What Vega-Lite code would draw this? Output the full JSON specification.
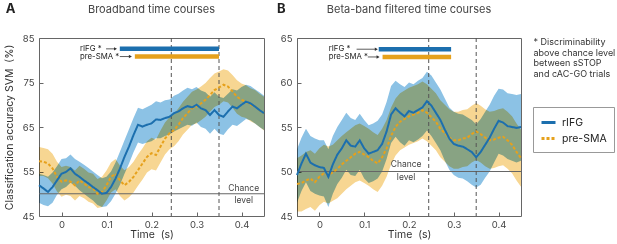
{
"$schema": "https://vega.github.io/schema/vega-lite/v6.json",
"padding": {"left": 3, "top": 2, "right": 0, "bottom": 0},
"spacing": 7,
"config": {
 "font": "Inter",
 "view": {"stroke": "#666", "strokeWidth": 1},
 "axis": {"domain": false, "grid": false, "ticks": true, "tickSize": -4, "tickColor": "#666", "labelPadding": 9, "labelFont": "Inter", "labelFontSize": 9.5, "labelColor": "#444", "titleFont": "Inter", "titleFontSize": 10.5, "titleFontWeight": "normal", "titleColor": "#333"},
 "axisX": {"labelPadding": 7, "titlePadding": 1},
 "title": {"font": "Inter", "fontSize": 11, "fontWeight": "normal", "color": "#444", "offset": -12},
 "legend": {"labelFont": "Inter", "labelFontSize": 10.5, "labelColor": "#222", "strokeColor": "#999", "fillColor": "white", "padding": 7, "symbolType": "stroke", "symbolSize": 196, "symbolStrokeWidth": 3, "labelOffset": 5, "rowPadding": 1}
},
"datasets": {
 "A": [
  {"s":"pre-SMA","t":-0.05,"m":57.3,"lo":54.0,"hi":60.5},{"s":"pre-SMA","t":-0.04,"m":57.2,"lo":54.0,"hi":60.3},{"s":"pre-SMA","t":-0.03,"m":56.8,"lo":53.5,"hi":60.0},{"s":"pre-SMA","t":-0.02,"m":55.7,"lo":52.3,"hi":59.0},{"s":"pre-SMA","t":-0.01,"m":53.8,"lo":50.5,"hi":57.2},{"s":"pre-SMA","t":0.0,"m":52.7,"lo":49.3,"hi":56.0},{"s":"pre-SMA","t":0.01,"m":53.0,"lo":49.8,"hi":56.3},{"s":"pre-SMA","t":0.02,"m":52.7,"lo":49.5,"hi":56.0},{"s":"pre-SMA","t":0.03,"m":51.9,"lo":48.5,"hi":55.2},{"s":"pre-SMA","t":0.04,"m":53.0,"lo":49.5,"hi":56.3},{"s":"pre-SMA","t":0.05,"m":52.3,"lo":49.0,"hi":55.6},{"s":"pre-SMA","t":0.06,"m":51.5,"lo":48.2,"hi":54.8},{"s":"pre-SMA","t":0.07,"m":51.2,"lo":47.8,"hi":54.5},{"s":"pre-SMA","t":0.08,"m":50.0,"lo":46.8,"hi":53.3},{"s":"pre-SMA","t":0.09,"m":50.4,"lo":47.0,"hi":53.8},{"s":"pre-SMA","t":0.10,"m":51.9,"lo":48.5,"hi":55.2},{"s":"pre-SMA","t":0.11,"m":53.8,"lo":50.3,"hi":57.0},{"s":"pre-SMA","t":0.12,"m":54.5,"lo":51.0,"hi":57.8},{"s":"pre-SMA","t":0.13,"m":53.0,"lo":49.5,"hi":56.3},{"s":"pre-SMA","t":0.14,"m":51.9,"lo":48.5,"hi":55.3},{"s":"pre-SMA","t":0.15,"m":52.7,"lo":49.2,"hi":56.0},{"s":"pre-SMA","t":0.16,"m":53.8,"lo":50.3,"hi":57.2},{"s":"pre-SMA","t":0.17,"m":55.3,"lo":51.8,"hi":58.8},{"s":"pre-SMA","t":0.18,"m":56.8,"lo":53.2,"hi":60.2},{"s":"pre-SMA","t":0.19,"m":58.3,"lo":54.8,"hi":61.8},{"s":"pre-SMA","t":0.20,"m":59.1,"lo":55.5,"hi":62.6},{"s":"pre-SMA","t":0.21,"m":58.7,"lo":55.2,"hi":62.2},{"s":"pre-SMA","t":0.22,"m":60.6,"lo":57.0,"hi":64.2},{"s":"pre-SMA","t":0.23,"m":62.4,"lo":58.8,"hi":66.0},{"s":"pre-SMA","t":0.24,"m":63.6,"lo":60.0,"hi":67.2},{"s":"pre-SMA","t":0.25,"m":64.3,"lo":60.7,"hi":68.0},{"s":"pre-SMA","t":0.26,"m":65.5,"lo":61.8,"hi":69.2},{"s":"pre-SMA","t":0.27,"m":67.0,"lo":63.3,"hi":70.7},{"s":"pre-SMA","t":0.28,"m":68.1,"lo":64.4,"hi":71.8},{"s":"pre-SMA","t":0.29,"m":69.2,"lo":65.5,"hi":72.9},{"s":"pre-SMA","t":0.30,"m":69.6,"lo":65.8,"hi":73.4},{"s":"pre-SMA","t":0.31,"m":70.3,"lo":66.5,"hi":74.1},{"s":"pre-SMA","t":0.32,"m":71.1,"lo":67.3,"hi":74.9},{"s":"pre-SMA","t":0.33,"m":72.2,"lo":68.4,"hi":76.0},{"s":"pre-SMA","t":0.34,"m":73.3,"lo":69.5,"hi":77.0},{"s":"pre-SMA","t":0.35,"m":73.9,"lo":70.0,"hi":77.5},{"s":"pre-SMA","t":0.36,"m":74.5,"lo":70.8,"hi":78.0},{"s":"pre-SMA","t":0.37,"m":74.1,"lo":70.5,"hi":77.7},{"s":"pre-SMA","t":0.38,"m":73.0,"lo":69.3,"hi":76.7},{"s":"pre-SMA","t":0.39,"m":71.8,"lo":68.0,"hi":75.5},{"s":"pre-SMA","t":0.40,"m":71.1,"lo":67.3,"hi":74.8},{"s":"pre-SMA","t":0.41,"m":70.7,"lo":67.0,"hi":74.4},{"s":"pre-SMA","t":0.42,"m":70.0,"lo":66.3,"hi":73.7},{"s":"pre-SMA","t":0.43,"m":69.6,"lo":65.8,"hi":73.3},{"s":"pre-SMA","t":0.44,"m":68.8,"lo":65.0,"hi":72.5},{"s":"pre-SMA","t":0.45,"m":68.1,"lo":64.2,"hi":71.8},
  {"s":"rIFG","t":-0.05,"m":51.9,"lo":48.0,"hi":54.5},{"s":"rIFG","t":-0.04,"m":51.2,"lo":47.5,"hi":54.2},{"s":"rIFG","t":-0.03,"m":50.4,"lo":47.2,"hi":53.8},{"s":"rIFG","t":-0.02,"m":51.5,"lo":48.0,"hi":54.8},{"s":"rIFG","t":-0.01,"m":53.0,"lo":49.8,"hi":56.2},{"s":"rIFG","t":0.0,"m":54.5,"lo":51.0,"hi":57.8},{"s":"rIFG","t":0.01,"m":54.9,"lo":51.5,"hi":58.0},{"s":"rIFG","t":0.02,"m":55.7,"lo":52.5,"hi":58.8},{"s":"rIFG","t":0.03,"m":54.5,"lo":51.8,"hi":57.8},{"s":"rIFG","t":0.04,"m":53.8,"lo":50.8,"hi":57.2},{"s":"rIFG","t":0.05,"m":53.0,"lo":50.0,"hi":56.5},{"s":"rIFG","t":0.06,"m":52.3,"lo":49.2,"hi":55.8},{"s":"rIFG","t":0.07,"m":51.5,"lo":48.5,"hi":55.0},{"s":"rIFG","t":0.08,"m":50.8,"lo":47.5,"hi":54.2},{"s":"rIFG","t":0.09,"m":50.0,"lo":47.0,"hi":53.5},{"s":"rIFG","t":0.10,"m":50.2,"lo":47.2,"hi":53.8},{"s":"rIFG","t":0.11,"m":51.5,"lo":48.3,"hi":55.0},{"s":"rIFG","t":0.12,"m":53.4,"lo":50.0,"hi":57.0},{"s":"rIFG","t":0.13,"m":55.7,"lo":52.0,"hi":59.5},{"s":"rIFG","t":0.14,"m":58.3,"lo":54.5,"hi":62.0},{"s":"rIFG","t":0.15,"m":60.6,"lo":56.8,"hi":64.5},{"s":"rIFG","t":0.16,"m":63.2,"lo":59.3,"hi":67.0},{"s":"rIFG","t":0.17,"m":65.5,"lo":61.5,"hi":69.3},{"s":"rIFG","t":0.18,"m":65.1,"lo":61.2,"hi":69.0},{"s":"rIFG","t":0.19,"m":65.5,"lo":61.5,"hi":69.5},{"s":"rIFG","t":0.20,"m":65.8,"lo":61.8,"hi":70.0},{"s":"rIFG","t":0.21,"m":66.7,"lo":62.5,"hi":70.8},{"s":"rIFG","t":0.22,"m":66.6,"lo":62.5,"hi":70.5},{"s":"rIFG","t":0.23,"m":67.0,"lo":63.0,"hi":71.0},{"s":"rIFG","t":0.24,"m":67.3,"lo":63.3,"hi":71.2},{"s":"rIFG","t":0.25,"m":68.1,"lo":64.0,"hi":72.0},{"s":"rIFG","t":0.26,"m":68.5,"lo":64.5,"hi":72.5},{"s":"rIFG","t":0.27,"m":69.2,"lo":65.0,"hi":73.2},{"s":"rIFG","t":0.28,"m":69.7,"lo":65.5,"hi":73.8},{"s":"rIFG","t":0.29,"m":69.4,"lo":65.3,"hi":73.5},{"s":"rIFG","t":0.30,"m":70.0,"lo":66.0,"hi":74.0},{"s":"rIFG","t":0.31,"m":69.2,"lo":65.0,"hi":73.2},{"s":"rIFG","t":0.32,"m":68.8,"lo":64.6,"hi":72.8},{"s":"rIFG","t":0.33,"m":67.7,"lo":63.5,"hi":71.8},{"s":"rIFG","t":0.34,"m":68.8,"lo":64.6,"hi":72.8},{"s":"rIFG","t":0.35,"m":67.7,"lo":63.5,"hi":71.8},{"s":"rIFG","t":0.36,"m":67.3,"lo":63.2,"hi":71.5},{"s":"rIFG","t":0.37,"m":68.5,"lo":64.5,"hi":72.5},{"s":"rIFG","t":0.38,"m":69.6,"lo":65.5,"hi":73.5},{"s":"rIFG","t":0.39,"m":69.2,"lo":65.2,"hi":73.2},{"s":"rIFG","t":0.40,"m":70.0,"lo":66.0,"hi":74.0},{"s":"rIFG","t":0.41,"m":70.7,"lo":66.8,"hi":74.5},{"s":"rIFG","t":0.42,"m":70.3,"lo":66.5,"hi":74.2},{"s":"rIFG","t":0.43,"m":69.6,"lo":65.8,"hi":73.5},{"s":"rIFG","t":0.44,"m":68.8,"lo":65.0,"hi":72.8},{"s":"rIFG","t":0.45,"m":68.1,"lo":64.3,"hi":72.0}
 ],
 "B": [
  {"s":"pre-SMA","t":-0.05,"m":48.6,"lo":45.5,"hi":51.5},{"s":"pre-SMA","t":-0.04,"m":48.7,"lo":45.5,"hi":51.8},{"s":"pre-SMA","t":-0.03,"m":49.0,"lo":45.8,"hi":52.2},{"s":"pre-SMA","t":-0.02,"m":49.2,"lo":46.0,"hi":52.4},{"s":"pre-SMA","t":-0.01,"m":48.8,"lo":45.6,"hi":52.0},{"s":"pre-SMA","t":0.0,"m":49.4,"lo":46.2,"hi":52.6},{"s":"pre-SMA","t":0.01,"m":49.8,"lo":46.6,"hi":53.0},{"s":"pre-SMA","t":0.02,"m":49.6,"lo":46.4,"hi":52.8},{"s":"pre-SMA","t":0.03,"m":49.9,"lo":46.7,"hi":53.0},{"s":"pre-SMA","t":0.04,"m":50.3,"lo":47.0,"hi":53.5},{"s":"pre-SMA","t":0.05,"m":50.8,"lo":47.5,"hi":54.0},{"s":"pre-SMA","t":0.06,"m":51.2,"lo":48.0,"hi":54.4},{"s":"pre-SMA","t":0.07,"m":51.6,"lo":48.4,"hi":54.8},{"s":"pre-SMA","t":0.08,"m":52.0,"lo":48.8,"hi":55.2},{"s":"pre-SMA","t":0.09,"m":52.2,"lo":49.0,"hi":55.4},{"s":"pre-SMA","t":0.10,"m":51.9,"lo":48.7,"hi":55.1},{"s":"pre-SMA","t":0.11,"m":51.6,"lo":48.4,"hi":54.8},{"s":"pre-SMA","t":0.12,"m":51.2,"lo":48.0,"hi":54.4},{"s":"pre-SMA","t":0.13,"m":50.9,"lo":47.7,"hi":54.1},{"s":"pre-SMA","t":0.14,"m":51.6,"lo":48.4,"hi":54.8},{"s":"pre-SMA","t":0.15,"m":52.6,"lo":49.4,"hi":55.8},{"s":"pre-SMA","t":0.16,"m":54.0,"lo":50.8,"hi":57.2},{"s":"pre-SMA","t":0.17,"m":55.0,"lo":51.8,"hi":58.2},{"s":"pre-SMA","t":0.18,"m":55.6,"lo":52.4,"hi":58.8},{"s":"pre-SMA","t":0.19,"m":55.9,"lo":52.7,"hi":59.1},{"s":"pre-SMA","t":0.20,"m":56.2,"lo":53.0,"hi":59.4},{"s":"pre-SMA","t":0.21,"m":56.4,"lo":53.2,"hi":59.6},{"s":"pre-SMA","t":0.22,"m":56.6,"lo":53.4,"hi":59.8},{"s":"pre-SMA","t":0.23,"m":56.9,"lo":53.7,"hi":60.1},{"s":"pre-SMA","t":0.24,"m":56.6,"lo":53.4,"hi":59.8},{"s":"pre-SMA","t":0.25,"m":56.1,"lo":52.9,"hi":59.3},{"s":"pre-SMA","t":0.26,"m":55.6,"lo":52.4,"hi":58.8},{"s":"pre-SMA","t":0.27,"m":54.8,"lo":51.6,"hi":58.0},{"s":"pre-SMA","t":0.28,"m":54.3,"lo":51.1,"hi":57.5},{"s":"pre-SMA","t":0.29,"m":53.8,"lo":50.6,"hi":57.0},{"s":"pre-SMA","t":0.30,"m":53.5,"lo":50.3,"hi":56.7},{"s":"pre-SMA","t":0.31,"m":53.5,"lo":50.3,"hi":56.7},{"s":"pre-SMA","t":0.32,"m":53.7,"lo":50.5,"hi":56.9},{"s":"pre-SMA","t":0.33,"m":53.8,"lo":50.6,"hi":57.0},{"s":"pre-SMA","t":0.34,"m":54.2,"lo":51.0,"hi":57.4},{"s":"pre-SMA","t":0.35,"m":54.5,"lo":51.3,"hi":57.7},{"s":"pre-SMA","t":0.36,"m":54.2,"lo":51.0,"hi":57.4},{"s":"pre-SMA","t":0.37,"m":53.8,"lo":50.6,"hi":57.0},{"s":"pre-SMA","t":0.38,"m":53.5,"lo":50.3,"hi":56.7},{"s":"pre-SMA","t":0.39,"m":53.6,"lo":50.4,"hi":56.8},{"s":"pre-SMA","t":0.40,"m":53.8,"lo":50.6,"hi":57.0},{"s":"pre-SMA","t":0.41,"m":53.9,"lo":50.7,"hi":57.1},{"s":"pre-SMA","t":0.42,"m":53.5,"lo":50.3,"hi":56.7},{"s":"pre-SMA","t":0.43,"m":53.0,"lo":49.8,"hi":56.2},{"s":"pre-SMA","t":0.44,"m":52.2,"lo":49.0,"hi":55.4},{"s":"pre-SMA","t":0.45,"m":51.5,"lo":48.3,"hi":54.7},
  {"s":"rIFG","t":-0.05,"m":49.6,"lo":46.5,"hi":52.5},{"s":"rIFG","t":-0.04,"m":50.9,"lo":47.8,"hi":53.8},{"s":"rIFG","t":-0.03,"m":52.0,"lo":48.8,"hi":54.8},{"s":"rIFG","t":-0.02,"m":51.0,"lo":47.8,"hi":54.0},{"s":"rIFG","t":-0.01,"m":50.7,"lo":47.5,"hi":53.7},{"s":"rIFG","t":0.0,"m":50.5,"lo":47.3,"hi":53.5},{"s":"rIFG","t":0.01,"m":50.4,"lo":47.2,"hi":53.5},{"s":"rIFG","t":0.02,"m":49.4,"lo":46.0,"hi":52.5},{"s":"rIFG","t":0.03,"m":50.8,"lo":47.5,"hi":54.0},{"s":"rIFG","t":0.04,"m":51.9,"lo":48.6,"hi":55.0},{"s":"rIFG","t":0.05,"m":52.6,"lo":49.3,"hi":55.8},{"s":"rIFG","t":0.06,"m":53.5,"lo":50.2,"hi":56.6},{"s":"rIFG","t":0.07,"m":52.9,"lo":49.6,"hi":56.0},{"s":"rIFG","t":0.08,"m":52.8,"lo":49.5,"hi":55.8},{"s":"rIFG","t":0.09,"m":53.5,"lo":50.2,"hi":56.5},{"s":"rIFG","t":0.10,"m":52.6,"lo":49.2,"hi":55.8},{"s":"rIFG","t":0.11,"m":52.0,"lo":48.7,"hi":55.2},{"s":"rIFG","t":0.12,"m":52.2,"lo":48.9,"hi":55.4},{"s":"rIFG","t":0.13,"m":52.4,"lo":49.2,"hi":55.7},{"s":"rIFG","t":0.14,"m":53.1,"lo":50.0,"hi":56.4},{"s":"rIFG","t":0.15,"m":54.5,"lo":51.4,"hi":57.8},{"s":"rIFG","t":0.16,"m":56.4,"lo":53.2,"hi":59.6},{"s":"rIFG","t":0.17,"m":57.1,"lo":53.9,"hi":60.2},{"s":"rIFG","t":0.18,"m":56.6,"lo":53.3,"hi":59.8},{"s":"rIFG","t":0.19,"m":56.2,"lo":52.9,"hi":59.5},{"s":"rIFG","t":0.20,"m":56.8,"lo":53.5,"hi":60.0},{"s":"rIFG","t":0.21,"m":56.6,"lo":53.3,"hi":59.8},{"s":"rIFG","t":0.22,"m":56.9,"lo":53.6,"hi":60.2},{"s":"rIFG","t":0.23,"m":57.2,"lo":54.0,"hi":60.5},{"s":"rIFG","t":0.24,"m":57.9,"lo":54.6,"hi":61.2},{"s":"rIFG","t":0.25,"m":57.4,"lo":54.0,"hi":60.8},{"s":"rIFG","t":0.26,"m":56.6,"lo":53.2,"hi":60.0},{"s":"rIFG","t":0.27,"m":55.8,"lo":52.4,"hi":59.2},{"s":"rIFG","t":0.28,"m":54.7,"lo":51.2,"hi":58.2},{"s":"rIFG","t":0.29,"m":53.7,"lo":50.2,"hi":57.2},{"s":"rIFG","t":0.30,"m":53.1,"lo":49.6,"hi":56.7},{"s":"rIFG","t":0.31,"m":52.9,"lo":49.3,"hi":56.5},{"s":"rIFG","t":0.32,"m":52.8,"lo":49.2,"hi":56.4},{"s":"rIFG","t":0.33,"m":52.5,"lo":48.9,"hi":56.1},{"s":"rIFG","t":0.34,"m":52.2,"lo":48.5,"hi":55.8},{"s":"rIFG","t":0.35,"m":51.6,"lo":48.2,"hi":55.3},{"s":"rIFG","t":0.36,"m":52.2,"lo":48.5,"hi":55.9},{"s":"rIFG","t":0.37,"m":53.0,"lo":49.3,"hi":56.7},{"s":"rIFG","t":0.38,"m":53.8,"lo":50.0,"hi":57.5},{"s":"rIFG","t":0.39,"m":54.8,"lo":51.0,"hi":58.5},{"s":"rIFG","t":0.40,"m":55.7,"lo":52.0,"hi":59.3},{"s":"rIFG","t":0.41,"m":55.5,"lo":51.8,"hi":59.2},{"s":"rIFG","t":0.42,"m":55.1,"lo":51.4,"hi":58.8},{"s":"rIFG","t":0.43,"m":55.0,"lo":51.2,"hi":58.7},{"s":"rIFG","t":0.44,"m":54.9,"lo":51.0,"hi":58.6},{"s":"rIFG","t":0.45,"m":55.0,"lo":51.2,"hi":58.7}
 ],
 "sigA": [{"s":"rIFG","x1":0.1296,"x2":0.35,"y":82.56,"lab":"rIFG *","lx":0.041,"a1":0.099,"a2":0.12},{"s":"pre-SMA","x1":0.163,"x2":0.35,"y":80.83,"lab":"pre-SMA *","lx":0.041,"a1":0.1296,"a2":0.153}],
 "sigB": [{"s":"rIFG","x1":0.1324,"x2":0.294,"y":63.74,"lab":"rIFG *","lx":0.0208,"a1":0.083,"a2":0.127},{"s":"pre-SMA","x1":0.141,"x2":0.294,"y":62.87,"lab":"pre-SMA *","lx":0.0208,"a1":0.108,"a2":0.131}]
},
"hconcat": [
 {
  "width": 225, "height": 178,
  "title": "Broadband time courses",
  "layer": [
   {"data": {"name": "A"}, "transform": [{"filter": "datum.s === 'rIFG'"}], "mark": {"type": "area", "color": "#8cc2e5", "blend": "multiply", "opacity": 1},
    "encoding": {"x": {"field": "t", "type": "quantitative", "scale": {"domain": [-0.05, 0.45], "nice": false, "zero": false}, "axis": {"values": [0, 0.1, 0.2, 0.3, 0.4], "format": "~g", "title": "Time\u00a0\u00a0(s)"}},
     "y": {"field": "lo", "type": "quantitative", "scale": {"domain": [45, 85], "nice": false, "zero": false}, "axis": {"values": [45, 50, 55, 60, 65, 70, 75, 80, 85], "title": "Classification accuracy SVM\u00a0\u00a0(%)", "titlePadding": 8}},
     "y2": {"field": "hi"}}},
   {"data": {"name": "A"}, "transform": [{"filter": "datum.s === 'pre-SMA'"}], "mark": {"type": "area", "color": "#f7d692", "blend": "multiply", "opacity": 1},
    "encoding": {"x": {"field": "t", "type": "quantitative"}, "y": {"field": "lo", "type": "quantitative"}, "y2": {"field": "hi"}}},
   {"data": {"values": [{"v": 50}]}, "mark": {"type": "rule", "color": "#666", "strokeWidth": 1}, "encoding": {"y": {"field": "v", "type": "quantitative"}}},
   {"data": {"values": [{"v": 0.244}, {"v": 0.35}]}, "mark": {"type": "rule", "color": "#555", "strokeWidth": 1, "strokeDash": [4, 3]}, "encoding": {"x": {"field": "v", "type": "quantitative"}}},
   {"data": {"name": "A"}, "mark": {"type": "line", "strokeWidth": 2},
    "encoding": {"x": {"field": "t", "type": "quantitative"}, "y": {"field": "m", "type": "quantitative"},
     "color": {"field": "s", "type": "nominal", "scale": {"domain": ["rIFG", "pre-SMA"], "range": ["#1c6fae", "#e6a11c"]}, "legend": {"title": null, "orient": "none", "legendX": 494, "legendY": 69}},
     "strokeDash": {"field": "s", "type": "nominal", "scale": {"domain": ["rIFG", "pre-SMA"], "range": [[1, 0], [3, 2]]}, "legend": {"title": null, "orient": "none", "legendX": 494, "legendY": 69}}}},
   {"data": {"name": "sigA"}, "transform": [{"filter": "datum.s === 'rIFG'"}], "mark": {"type": "rule", "color": "#1c6fae", "strokeWidth": 4.5, "strokeCap": "butt"}, "encoding": {"x": {"field": "x1", "type": "quantitative"}, "x2": {"field": "x2"}, "y": {"field": "y", "type": "quantitative"}}},
   {"data": {"name": "sigA"}, "transform": [{"filter": "datum.s === 'pre-SMA'"}], "mark": {"type": "rule", "color": "#e6a11c", "strokeWidth": 4.5, "strokeCap": "butt"}, "encoding": {"x": {"field": "x1", "type": "quantitative"}, "x2": {"field": "x2"}, "y": {"field": "y", "type": "quantitative"}}},
   {"data": {"name": "sigA"}, "mark": {"type": "rule", "color": "#333", "strokeWidth": 0.8}, "encoding": {"x": {"field": "a1", "type": "quantitative"}, "x2": {"field": "a2"}, "y": {"field": "y", "type": "quantitative"}}},
   {"data": {"name": "sigA"}, "mark": {"type": "point", "shape": "triangle-right", "filled": true, "color": "#333", "size": 12, "opacity": 1}, "encoding": {"x": {"field": "a2", "type": "quantitative"}, "y": {"field": "y", "type": "quantitative"}}},
   {"data": {"name": "sigA"}, "mark": {"type": "text", "align": "left", "baseline": "middle", "fontSize": 7.8, "color": "#222", "font": "Inter"}, "encoding": {"x": {"field": "lx", "type": "quantitative"}, "y": {"field": "y", "type": "quantitative"}, "text": {"field": "lab"}}},
   {"data": {"values": [{"t": 0.405, "v": 51.4, "txt": "Chance"}, {"t": 0.405, "v": 48.5, "txt": "level"}]}, "mark": {"type": "text", "align": "center", "baseline": "middle", "fontSize": 8.5, "color": "#444", "font": "Inter"}, "encoding": {"x": {"field": "t", "type": "quantitative"}, "y": {"field": "v", "type": "quantitative"}, "text": {"field": "txt"}}},
   {"data": {"values": [{"t": -0.1133, "v": 91.5, "txt": "A"}]}, "mark": {"type": "text", "align": "center", "baseline": "middle", "fontSize": 13, "fontWeight": "bold", "color": "#222", "font": "Inter", "clip": false}, "encoding": {"x": {"field": "t", "type": "quantitative"}, "y": {"field": "v", "type": "quantitative"}, "text": {"field": "txt"}}}
  ]
 },
 {
  "width": 224, "height": 178,
  "title": "Beta-band filtered time courses",
  "layer": [
   {"data": {"name": "B"}, "transform": [{"filter": "datum.s === 'rIFG'"}], "mark": {"type": "area", "color": "#8cc2e5", "blend": "multiply", "opacity": 1},
    "encoding": {"x": {"field": "t", "type": "quantitative", "scale": {"domain": [-0.05, 0.45], "nice": false, "zero": false}, "axis": {"values": [0, 0.1, 0.2, 0.3, 0.4], "format": "~g", "title": "Time\u00a0\u00a0(s)"}},
     "y": {"field": "lo", "type": "quantitative", "scale": {"domain": [45, 65], "nice": false, "zero": false}, "axis": {"values": [45, 50, 55, 60, 65], "title": null}},
     "y2": {"field": "hi"}}},
   {"data": {"name": "B"}, "transform": [{"filter": "datum.s === 'pre-SMA'"}], "mark": {"type": "area", "color": "#f7d692", "blend": "multiply", "opacity": 1},
    "encoding": {"x": {"field": "t", "type": "quantitative"}, "y": {"field": "lo", "type": "quantitative"}, "y2": {"field": "hi"}}},
   {"data": {"values": [{"v": 50}]}, "mark": {"type": "rule", "color": "#666", "strokeWidth": 1}, "encoding": {"y": {"field": "v", "type": "quantitative"}}},
   {"data": {"values": [{"v": 0.244}, {"v": 0.35}]}, "mark": {"type": "rule", "color": "#555", "strokeWidth": 1, "strokeDash": [4, 3]}, "encoding": {"x": {"field": "v", "type": "quantitative"}}},
   {"data": {"name": "B"}, "mark": {"type": "line", "strokeWidth": 2},
    "encoding": {"x": {"field": "t", "type": "quantitative"}, "y": {"field": "m", "type": "quantitative"},
     "color": {"field": "s", "type": "nominal"},
     "strokeDash": {"field": "s", "type": "nominal"}}},
   {"data": {"name": "sigB"}, "transform": [{"filter": "datum.s === 'rIFG'"}], "mark": {"type": "rule", "color": "#1c6fae", "strokeWidth": 4.5, "strokeCap": "butt"}, "encoding": {"x": {"field": "x1", "type": "quantitative"}, "x2": {"field": "x2"}, "y": {"field": "y", "type": "quantitative"}}},
   {"data": {"name": "sigB"}, "transform": [{"filter": "datum.s === 'pre-SMA'"}], "mark": {"type": "rule", "color": "#e6a11c", "strokeWidth": 4.5, "strokeCap": "butt"}, "encoding": {"x": {"field": "x1", "type": "quantitative"}, "x2": {"field": "x2"}, "y": {"field": "y", "type": "quantitative"}}},
   {"data": {"name": "sigB"}, "mark": {"type": "rule", "color": "#333", "strokeWidth": 0.8}, "encoding": {"x": {"field": "a1", "type": "quantitative"}, "x2": {"field": "a2"}, "y": {"field": "y", "type": "quantitative"}}},
   {"data": {"name": "sigB"}, "mark": {"type": "point", "shape": "triangle-right", "filled": true, "color": "#333", "size": 12, "opacity": 1}, "encoding": {"x": {"field": "a2", "type": "quantitative"}, "y": {"field": "y", "type": "quantitative"}}},
   {"data": {"name": "sigB"}, "mark": {"type": "text", "align": "left", "baseline": "middle", "fontSize": 7.8, "color": "#222", "font": "Inter"}, "encoding": {"x": {"field": "lx", "type": "quantitative"}, "y": {"field": "y", "type": "quantitative"}, "text": {"field": "lab"}}},
   {"data": {"values": [{"t": 0.1935, "v": 50.8, "txt": "Chance"}, {"t": 0.1935, "v": 49.4, "txt": "level"}]}, "mark": {"type": "text", "align": "center", "baseline": "middle", "fontSize": 8.5, "color": "#444", "font": "Inter"}, "encoding": {"x": {"field": "t", "type": "quantitative"}, "y": {"field": "v", "type": "quantitative"}, "text": {"field": "txt"}}},
   {"data": {"values": [{"t": -0.0848, "v": 68.3, "txt": "B"}]}, "mark": {"type": "text", "align": "center", "baseline": "middle", "fontSize": 13, "fontWeight": "bold", "color": "#222", "font": "Inter", "clip": false}, "encoding": {"x": {"field": "t", "type": "quantitative"}, "y": {"field": "v", "type": "quantitative"}, "text": {"field": "txt"}}},
   {"data": {"values": [{"t": 0.478, "v": 65.0, "txt": "* Discriminability\nabove chance level\nbetween sSTOP\nand cAC-GO trials"}]}, "mark": {"type": "text", "align": "left", "baseline": "top", "fontSize": 9, "lineHeight": 10.5, "lineBreak": "\n", "color": "#333", "font": "Inter", "clip": false}, "encoding": {"x": {"field": "t", "type": "quantitative"}, "y": {"field": "v", "type": "quantitative"}, "text": {"field": "txt"}}}
  ]
 }
]
}
